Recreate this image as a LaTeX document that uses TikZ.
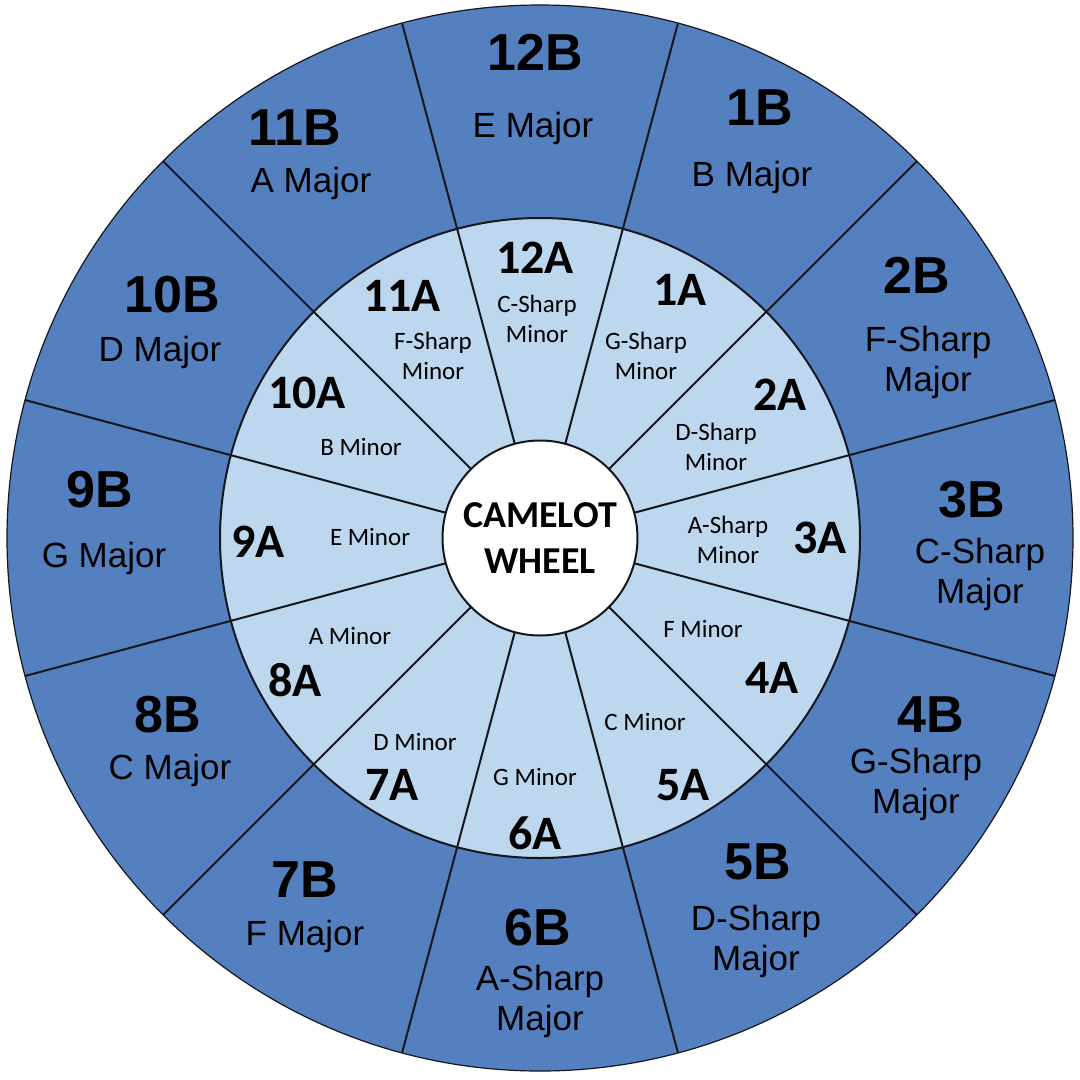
\documentclass[tikz,border=0pt]{standalone}
\usepackage{fontspec}
\setmainfont{Liberation Sans}
\newfontfamily\calfont{Carlito}
\definecolor{outerblue}{HTML}{5580C0}
\definecolor{innerblue}{HTML}{BDD7EE}
\definecolor{linecol}{HTML}{15171F}
\begin{document}
\begin{tikzpicture}[x=1pt,y=-1pt,
  every node/.style={inner sep=0pt, text=black},
  bigB/.style={font=\fontsize{52}{56}\selectfont\bfseries},
  majB/.style={font=\fontsize{35}{40}\selectfont, align=center},
  bigA/.style={font=\calfont\fontsize{48}{52}\selectfont\bfseries},
  minA/.style={font=\calfont\fontsize{25}{30}\selectfont, align=center},
  spoke/.style={draw=linecol, line width=2pt}]
\useasboundingbox (0,0) rectangle (1080,1080);
\fill[white] (0,0) rectangle (1080,1080);
\coordinate (O) at (540,538);
\fill[outerblue] (O) circle (533);
\fill[innerblue] (O) circle (320);
\foreach \a in {15,45,...,345}
  \draw[spoke, shift={(O)}] (\a:97) -- (\a:533);
\draw[linecol, line width=2pt] (O) circle (320);
\draw[linecol, line width=1.2pt] (O) circle (533);
\node[circle, fill=white, draw=linecol, line width=2pt, minimum size=195pt,
  font=\calfont\fontsize{38}{46}\selectfont\bfseries, align=center] (hub) at (O) {CAMELOT\\WHEEL};
% outer ring
\node[bigB] (b12) at (535,52) {12B};  \node[majB] (m12) at (533,128) {E Major};
\node[bigB] (b1) at (760,108) {1B};   \node[majB] (m1) at (752,177) {B Major};
\node[bigB] (b11) at (295,128) {11B}; \node[majB] (m11) at (311,183) {A Major};
\node[bigB] (b2) at (917,275) {2B};   \node[majB] (m2) at (928,362) {F-Sharp\\Major};
\node[bigB] (b10) at (172,295) {10B}; \node[majB] (m10) at (160,352) {D Major};
\node[bigB] (b3) at (972,500) {3B};   \node[majB] (m3) at (980,574) {C-Sharp\\Major};
\node[bigB] (b9) at (100,490) {9B};   \node[majB] (m9) at (104,558) {G Major};
\node[bigB] (b4) at (931,715) {4B};   \node[majB] (m4) at (916,784) {G-Sharp\\Major};
\node[bigB] (b8) at (168,715) {8B};   \node[majB] (m8) at (170,770) {C Major};
\node[bigB] (b5) at (758,862) {5B};   \node[majB] (m5) at (756,941) {D-Sharp\\Major};
\node[bigB] (b7) at (305,880) {7B};   \node[majB] (m7) at (305,936) {F Major};
\node[bigB] (b6) at (538,928) {6B};   \node[majB] (m6) at (540,1001) {A-Sharp\\Major};
% inner ring
\node[bigA] (a12) at (535,258) {12A}; \node[minA] (n12) at (537,319) {C-Sharp\\Minor};
\node[bigA] (a1) at (680,290) {1A};   \node[minA] (n1) at (646,356) {G-Sharp\\Minor};
\node[bigA] (a11) at (402,296) {11A}; \node[minA] (n11) at (433,356) {F-Sharp\\Minor};
\node[bigA] (a2) at (780,395) {2A};   \node[minA] (n2) at (716,447) {D-Sharp\\Minor};
\node[bigA] (a10) at (307,393) {10A}; \node[minA] (n10) at (361,447) {B Minor};
\node[bigA] (a3) at (820,538) {3A};   \node[minA] (n3) at (728,540) {A-Sharp\\Minor};
\node[bigA] (a9) at (258,542) {9A};   \node[minA] (n9) at (370,537) {E Minor};
\node[bigA] (a4) at (772,678) {4A};   \node[minA] (n4) at (703,629) {F Minor};
\node[bigA] (a8) at (295,680) {8A};   \node[minA] (n8) at (350,636) {A Minor};
\node[bigA] (a5) at (683,785) {5A};   \node[minA] (n5) at (645,722) {C Minor};
\node[bigA] (a7) at (392,785) {7A};   \node[minA] (n7) at (415,742) {D Minor};
\node[bigA] (a6) at (535,833) {6A};   \node[minA] (n6) at (535,777) {G Minor};
\end{tikzpicture}
\end{document}
